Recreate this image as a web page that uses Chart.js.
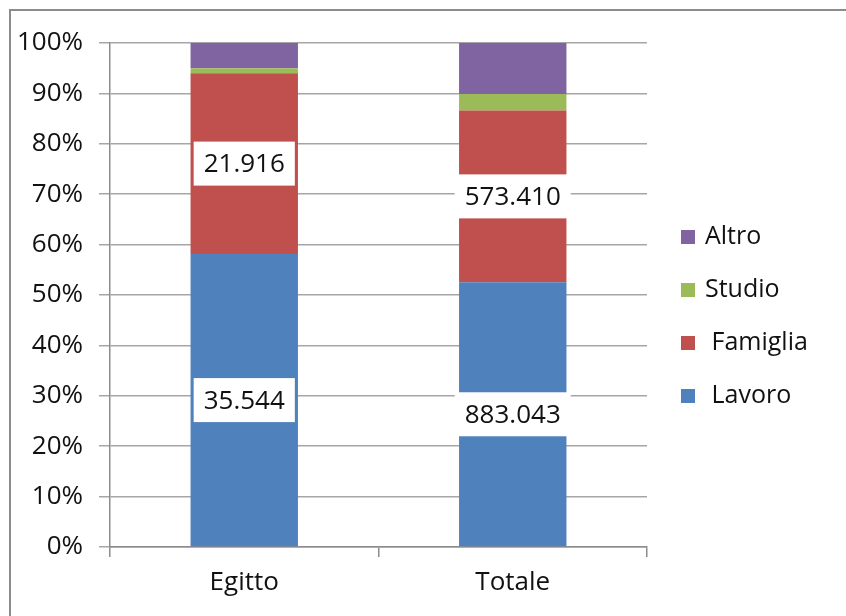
<!DOCTYPE html>
<html>
<head>
<meta charset="utf-8">
<script src="https://cdn.jsdelivr.net/npm/chart.js@4.4.1/dist/chart.umd.min.js"></script>
<style>
  html, body { margin: 0; padding: 0; background: #fff; }
  #wrap { position: relative; width: 846px; height: 616px; }
</style>
</head>
<body>
<div id="wrap"><canvas id="c" width="846" height="616"></canvas></div>
<script>
// ---- data ----
const categories = ['Egitto', 'Totale'];
const seriesNames = [' Lavoro', ' Famiglia', 'Studio', 'Altro'];
const lavoro   = [35544, 883043];
const famiglia = [21916, 573410];
const studio   = [620, 55000];
const altro    = [3050, 170000];
const yTicks = [0, 10, 20, 30, 40, 50, 60, 70, 80, 90, 100];
const labeledSeries = [0, 1];

const colors = ['#4f81bd', '#c0504d', '#9bbb59', '#8064a2'];
const raw = [lavoro, famiglia, studio, altro];
const totals = categories.map((_, i) => raw.reduce((s, arr) => s + arr[i], 0));
const pct = raw.map(arr => arr.map((v, i) => v / totals[i] * 100));

function fmt(n) {
  return String(n).replace(/\B(?=(\d{3})+(?!\d))/g, '.');
}

const FONT = "'Open Sans', 'DejaVu Sans', sans-serif";

const framePlugin = {
  id: 'frame',
  beforeDraw(chart) {
    const ctx = chart.ctx;
    ctx.save();
    ctx.strokeStyle = '#8c8c8c';
    ctx.lineWidth = 2;
    ctx.beginPath();
    ctx.moveTo(10, 616);
    ctx.lineTo(10, 10);
    ctx.lineTo(846, 10);
    ctx.stroke();
    ctx.restore();
  }
};

const labelPlugin = {
  id: 'valueBoxes',
  afterDatasetsDraw(chart) {
    const ctx = chart.ctx;
    ctx.save();
    ctx.font = '26px ' + FONT;
    ctx.textAlign = 'center';
    ctx.textBaseline = 'middle';
    labeledSeries.forEach(di => {
      const meta = chart.getDatasetMeta(di);
      meta.data.forEach((bar, i) => {
        const txt = fmt(raw[di][i]);
        const cy = (bar.y + bar.base) / 2;
        const w = ctx.measureText(txt).width + 20;
        const h = 44;
        ctx.fillStyle = '#ffffff';
        ctx.fillRect(bar.x - w / 2, cy - h / 2, w, h);
        ctx.fillStyle = '#111111';
        ctx.fillText(txt, bar.x, cy + 1);
      });
    });
    ctx.restore();
  }
};

const legendPlugin = {
  id: 'customLegend',
  afterDraw(chart) {
    const ctx = chart.ctx;
    const x0 = chart.chartArea.right + 34;
    const ys = [237, 290, 343, 396];
    const order = [3, 2, 1, 0];
    ctx.save();
    ctx.font = '25px ' + FONT;
    ctx.textBaseline = 'middle';
    ctx.textAlign = 'left';
    order.forEach((di, k) => {
      const y = ys[k];
      ctx.fillStyle = colors[di];
      ctx.fillRect(x0, y - 7, 14, 14);
      ctx.fillStyle = '#111111';
      ctx.fillText(chart.data.datasets[di].label, x0 + 24, y);
    });
    ctx.restore();
  }
};

new Chart(document.getElementById('c'), {
  type: 'bar',
  data: {
    labels: categories,
    datasets: seriesNames.map((name, i) => ({
      label: name,
      data: pct[i],
      backgroundColor: colors[i],
      borderWidth: 0,
      barPercentage: 0.4,
      categoryPercentage: 1.0
    }))
  },
  options: {
    responsive: false,
    animation: false,
    devicePixelRatio: 1,
    layout: { padding: { top: 43, right: 199, left: 0, bottom: 0 } },
    plugins: {
      legend: { display: false },
      tooltip: { enabled: false }
    },
    scales: {
      x: {
        stacked: true,
        offset: true,
        grid: {
          offset: true,
          drawOnChartArea: false,
          drawTicks: true,
          tickLength: 10,
          color: '#8c8c8c',
          lineWidth: 1.5
        },
        border: { color: '#8c8c8c', width: 1.5 },
        ticks: {
          color: '#111111',
          font: { family: FONT, size: 26 },
          padding: 10
        },
        afterFit(scale) { scale.height = 69; }
      },
      y: {
        stacked: true,
        min: 0,
        max: 100,
        afterBuildTicks(scale) { scale.ticks = yTicks.map(v => ({ value: v })); },
        grid: {
          color: '#a6a6a6',
          lineWidth: 1.5,
          drawTicks: true,
          tickLength: 11
        },
        border: { color: '#8c8c8c', width: 1.5 },
        ticks: {
          color: '#111111',
          font: { family: FONT, size: 26 },
          padding: 16,
          callback: v => v + '%'
        },
        afterFit(scale) { scale.width = 110; }
      }
    }
  },
  plugins: [framePlugin, labelPlugin, legendPlugin]
});
</script>
</body>
</html>
